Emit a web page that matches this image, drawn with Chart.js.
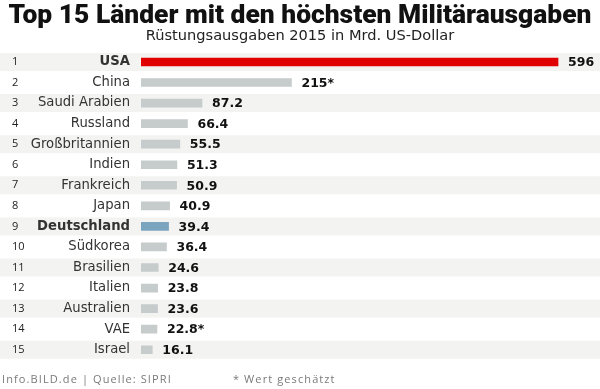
<!DOCTYPE html>
<html>
<head>
<meta charset="utf-8">
<script src="https://cdn.jsdelivr.net/npm/chart.js@4"></script>
<style>
  html, body { margin: 0; padding: 0; background: #fff; }
  .wrap { position: relative; width: 600px; height: 389px; }
  .foot { position: absolute; top: 371px; font: 11px "Open Sans", sans-serif; color: #7a7a7a; letter-spacing: 1.1px; }
</style>
</head>
<body>
<div class="wrap">
  <canvas id="c" width="600" height="389"></canvas>
  <div class="foot" style="left:2px">Info.BILD.de | Quelle: SIPRI</div>
  <div class="foot" style="left:233px">* Wert geschätzt</div>
</div>
<script>
// Daten: Rüstungsausgaben 2015, Mrd. US-Dollar (SIPRI)
const countries = ["USA", "China", "Saudi Arabien", "Russland", "Großbritannien", "Indien", "Frankreich",
  "Japan", "Deutschland", "Südkorea", "Brasilien", "Italien", "Australien", "VAE", "Israel"];
const spending = [596, 215, 87.2, 66.4, 55.5, 51.3, 50.9, 40.9, 39.4, 36.4, 24.6, 23.8, 23.6, 22.8, 16.1];
const estimated = [false, true, false, false, false, false, false, false, false, false, false, false, false, true, false];
const highlight = { "USA": "#e00000", "Deutschland": "#7ba4bf" };

const barColor = countries.map((c) => highlight[c] || "#c6cbcb");
const isBold = (i) => countries[i] === "USA" || countries[i] === "Deutschland";

// Streifen, Rangnummern und Werte
const rowsPlugin = {
  id: "rows",
  beforeDraw(chart) {
    const { ctx, scales: { y } } = chart;
    ctx.save();
    ctx.fillStyle = "#f3f3f1";
    countries.forEach((c, i) => {
      if (i % 2) return;
      const cy = y.getPixelForValue(i);
      ctx.fillRect(0, cy - 9, chart.width, 18);
    });
    ctx.restore();
  },
  afterDraw(chart) {
    const { ctx, scales: { x, y } } = chart;
    ctx.save();
    ctx.textBaseline = "middle";
    countries.forEach((c, i) => {
      const cy = y.getPixelForValue(i);
      ctx.fillStyle = "#222";
      ctx.textAlign = "left";
      ctx.font = '11px "Open Sans", sans-serif';
      ctx.fillText(String(i + 1), 12, cy);
      ctx.font = 'bold 12.5px "DejaVu Sans", sans-serif';
      ctx.fillStyle = "#111";
      const txt = String(spending[i]) + (estimated[i] ? "*" : "");
      ctx.fillText(txt, x.getPixelForValue(spending[i]) + 10, cy + 1);
    });
    ctx.restore();
  },
};

new Chart(document.getElementById("c"), {
  type: "bar",
  data: {
    labels: countries,
    datasets: [{
      data: spending,
      backgroundColor: barColor,
      barThickness: 8,
      borderWidth: 0,
    }],
  },
  options: {
    indexAxis: "y",
    responsive: false,
    animation: false,
    layout: { padding: { top: 0, right: 0, bottom: 29, left: 0 } },
    plugins: {
      legend: { display: false },
      tooltip: { enabled: false },
      title: {
        display: true,
        text: "Top 15 Länder mit den höchsten Militärausgaben",
        color: "#111",
        font: { family: "Roboto", size: 26.4, weight: 900, lineHeight: 0.95 },
        padding: { top: 4, bottom: 0 },
      },
      subtitle: {
        display: true,
        text: "Rüstungsausgaben 2015 in Mrd. US-Dollar",
        color: "#222",
        font: { family: "DejaVu Sans", size: 14.6, lineHeight: 1.0 },
        padding: { top: 0, bottom: 8 },
      },
    },
    scales: {
      x: { display: false, min: 0, max: 656 },
      y: {
        grid: { display: false, drawTicks: false },
        border: { display: false },
        afterFit: (s) => { s.width = 141; },
        ticks: {
          padding: 11,
          color: "#333",
          font: (ctx) => ({ family: "DejaVu Sans", size: 13.2, weight: isBold(ctx.index) ? "bold" : "normal" }),
        },
      },
    },
  },
  plugins: [rowsPlugin],
});
</script>
</body>
</html>
